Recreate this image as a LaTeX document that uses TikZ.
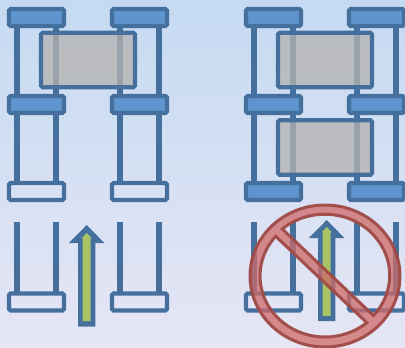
\documentclass[tikz,border=0pt]{standalone}
\usepackage{tikz}
\definecolor{legc}{HTML}{45709E}
\definecolor{padc}{HTML}{5F95CE}
\definecolor{slab}{HTML}{B5B3B1}
\definecolor{core}{HTML}{A9C467}
\definecolor{ban}{HTML}{CF6A68}
\definecolor{banl}{HTML}{A04A46}
\definecolor{bgtop}{HTML}{C5DAF2}
\definecolor{bgbot}{HTML}{E6E6F5}
\tikzset{
  pad/.style={draw=legc,rounded corners=1.5pt,line width=4.2pt,minimum width=55pt,minimum height=17pt,inner sep=0pt,outer sep=0pt,fill=padc},
  epad/.style={pad,fill=none},
  leg/.style={draw=legc,line width=5.8pt},
  slabbox/.style={draw=legc,rounded corners=1.5pt,line width=4.2pt,minimum width=94pt,minimum height=54.5pt,inner sep=0pt,outer sep=0pt,fill=slab,fill opacity=0.76},
  upshaft/.style={draw=none,fill=legc},
  upcore/.style={draw=none,fill=core},
}
\begin{document}
\begin{tikzpicture}[x=1pt,y=-1pt]
\useasboundingbox (0,0) rectangle (405,348);
\shade[top color=bgtop,bottom color=bgbot] (0,0) rectangle (405,348);
% left stack
\node[pad] (la1) at (36.5,17.5) {};
\node[pad] (lb1) at (139.5,17.5) {};
\node[pad] (la2) at (36.5,104.5) {};
\node[pad] (lb2) at (139.5,104.5) {};
\node[epad] (la3) at (36.5,191.5) {};
\node[epad] (lb3) at (139.5,191.5) {};
\node[epad] (la4) at (36.5,302) {};
\node[epad] (lb4) at (139.5,302) {};
% right stack
\node[pad] (ra1) at (273.5,17.5) {};
\node[pad] (rb1) at (376.5,17.5) {};
\node[pad] (ra2) at (273.5,104.5) {};
\node[pad] (rb2) at (376.5,104.5) {};
\node[pad] (ra3) at (273.5,191.5) {};
\node[pad] (rb3) at (376.5,191.5) {};
\node[epad] (ra4) at (273.5,302) {};
\node[epad] (rb4) at (376.5,302) {};
% legs between the pads
\foreach \p in {la,lb,ra,rb}{
  \foreach \s/\t in {1/2,2/3}{
    \draw[leg] ([xshift=-19.6pt]\p\s.south) -- ([xshift=-19.6pt]\p\t.north);
    \draw[leg] ([xshift=19.6pt]\p\s.south) -- ([xshift=19.6pt]\p\t.north);
  }
  \coordinate (\p top) at (\p4.north |- 0,222);
  \draw[leg] ([xshift=-19.6pt]\p top) -- ([xshift=-19.6pt]\p4.north);
  \draw[leg] ([xshift=19.6pt]\p top) -- ([xshift=19.6pt]\p4.north);
}
\node[slabbox] (lslab) at (88,60) {};
\node[slabbox] (rslab1) at (325,60) {};
\node[slabbox] (rslab2) at (325,147.5) {};
% arrows
\fill[upshaft] (86.7,225) -- (104.4,243) -- (95.4,243) -- (95.4,326.7) -- (78,326.7) -- (78,243) -- (69,243) -- cycle;
\fill[upcore] (86.7,233) -- (91.5,238) -- (90.7,238) -- (90.7,321) -- (82.7,321) -- (82.7,238) -- (81.9,238) -- cycle;
\fill[upshaft] (326.7,220) -- (344.4,238) -- (335.4,238) -- (335.4,321) -- (318,321) -- (318,238) -- (309,238) -- cycle;
\fill[upcore] (326.7,227) -- (331.5,232) -- (330.7,232) -- (330.7,316) -- (322.7,316) -- (322.7,232) -- (321.9,232) -- cycle;
% no sign
\draw[draw=banl,line width=3pt,fill=ban,fill opacity=0.75,draw opacity=0.95,even odd rule]
  (325,276) ellipse[x radius=75pt,y radius=71pt]
  (282.3,229) arc[start angle=130.7,end angle=-41.4,x radius=65pt,y radius=61pt] -- cycle
  (275.7,236.3) arc[start angle=139.4,end angle=310,x radius=65pt,y radius=61pt] -- cycle;
\end{tikzpicture}
\end{document}
